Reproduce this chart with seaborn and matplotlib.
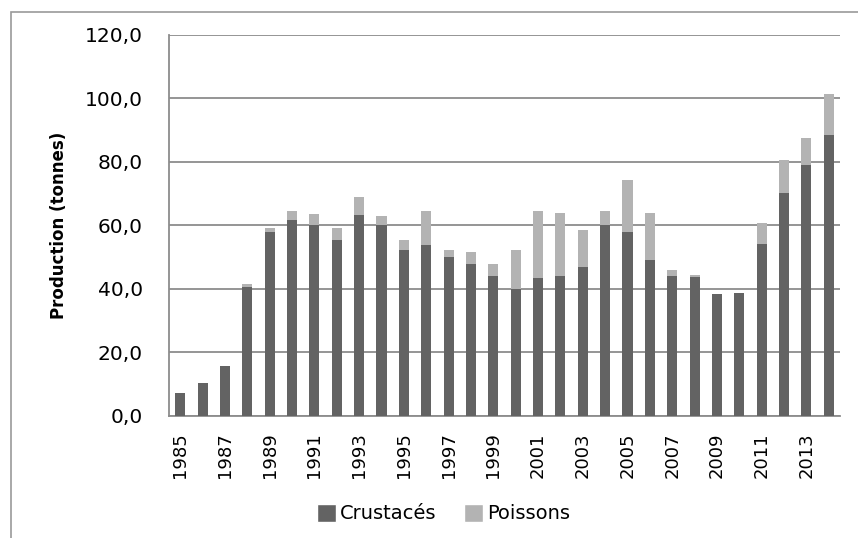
import numpy as np
import pandas as pd
import matplotlib
matplotlib.use("Agg")
import matplotlib.pyplot as plt
from matplotlib.patches import Rectangle, Patch
from matplotlib.ticker import FixedLocator, FuncFormatter
import seaborn as sns

# data (tonnes)
years = list(range(1985, 2015))
crustaces = [7.3, 10.5, 15.8, 40.5, 58.0, 61.7, 60.1, 55.4, 63.4, 60.1,
             52.3, 53.8, 50.2, 47.8, 44.1, 39.9, 43.5, 44.1, 46.9, 60.1,
             58.0, 49.1, 44.1, 43.6, 38.4, 38.8, 54.3, 70.3, 78.9, 88.5]
poissons = [0.0, 0.0, 0.0, 1.0, 1.2, 2.9, 3.4, 3.8, 5.4, 2.9,
            3.1, 10.8, 2.1, 3.8, 3.9, 12.4, 21.1, 19.9, 11.8, 4.5,
            16.2, 14.9, 1.9, 0.7, 0.0, 0.0, 6.5, 10.4, 8.7, 13.0]

df = pd.DataFrame({"annee": [str(y) for y in years],
                   "Crustacés": crustaces,
                   "Poissons": poissons})
df["total"] = df["Crustacés"] + df["Poissons"]

dark = "#636363"
light = "#b3b3b3"
grid_col = "#8c8c8c"

sns.set_style("white")
plt.rcParams["font.family"] = ["DejaVu Sans"]
plt.rcParams["text.color"] = "black"
plt.rcParams["xtick.labelcolor"] = "black"
plt.rcParams["ytick.labelcolor"] = "black"
plt.rcParams["axes.labelcolor"] = "black"

fig = plt.figure(figsize=(8.58, 5.38), dpi=100)
ax = fig.add_axes([0.197, 0.227, 0.782, 0.708])

# stacked bars: total first (light), crustaces on top of it (dark)
sns.barplot(data=df, x="annee", y="total", color=light, width=0.45,
            saturation=1, linewidth=0, ax=ax, zorder=3)
sns.barplot(data=df, x="annee", y="Crustacés", color=dark, width=0.45,
            saturation=1, linewidth=0, ax=ax, zorder=4)

ax.set_ylim(0, 120)
ax.set_xlim(-0.5, len(years) - 0.5)
ax.set_yticks(np.arange(0, 121, 20))
ax.yaxis.set_major_formatter(FuncFormatter(lambda v, p: f"{v:.1f}".replace(".", ",")))
ax.yaxis.grid(True, color=grid_col, linewidth=1.3, zorder=0)
ax.set_axisbelow(True)

# year labels every two years, ticks between categories
ax.xaxis.set_major_locator(FixedLocator(list(range(0, len(years), 2))))
ax.set_xticklabels([str(y) for y in years[::2]], rotation=90)
ax.xaxis.set_minor_locator(FixedLocator(np.arange(-0.5, len(years), 1.0)))
ax.tick_params(axis="x", which="major", length=0, pad=12, labelsize=13)
ax.tick_params(axis="x", which="minor", length=5, width=1, color=grid_col)
ax.tick_params(axis="y", length=7, width=1, color=grid_col, labelsize=14.5, pad=12)

for s in ["top", "right"]:
    ax.spines[s].set_visible(False)
for s in ["left", "bottom"]:
    ax.spines[s].set_color(grid_col)
    ax.spines[s].set_linewidth(1.3)

ax.set_xlabel("")
ax.set_ylabel("Production (tonnes)", fontsize=12, fontweight="bold", labelpad=12)

handles = [Patch(facecolor=dark, label="Crustacés"),
           Patch(facecolor=light, label="Poissons")]
fig.legend(handles=handles, loc="center", bbox_to_anchor=(0.517, 0.045), ncol=2,
           frameon=False, fontsize=14, handlelength=1.0, handleheight=1.0,
           handletextpad=0.2, columnspacing=1.4)

# chart border, cut by the image edges on the right and bottom
fig.patches.append(Rectangle((11 / 858, -0.2), 1.2, 1.2 - 12 / 538,
                             transform=fig.transFigure, fill=False,
                             edgecolor="#9a9a9a", linewidth=1.2))

fig.savefig("out.png", dpi=100)
